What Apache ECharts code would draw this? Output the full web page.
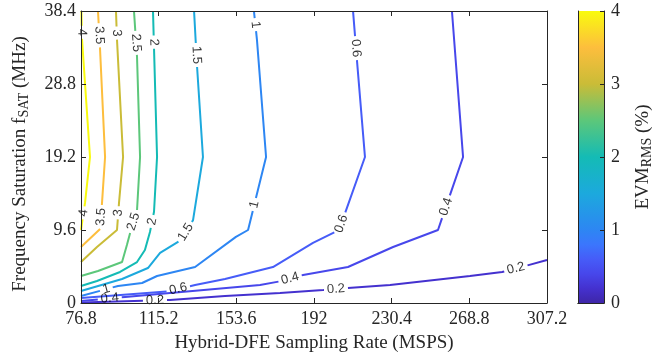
<!DOCTYPE html>
<html><head><meta charset="utf-8">
<script src="https://cdn.jsdelivr.net/npm/echarts@6/dist/echarts.min.js"></script>
<style>html,body{margin:0;padding:0;background:#fff}#c{width:656px;height:360px}</style>
</head><body><div id="c"></div><script>
// ---- data ----
const levels = [0.2, 0.4, 0.6, 1, 1.5, 2, 2.5, 3, 3.5, 4];
const xTicks = [76.8, 115.2, 153.6, 192, 230.4, 268.8, 307.2];
const yTicks = [0, 9.6, 19.2, 28.8, 38.4];
const cbTicks = [0, 1, 2, 3, 4];
const c02 = [[76.8,0.05],[120.8,0.39],[148,0.92],[175.2,1.32],[196.5,1.71],[208.8,1.97],[229.6,2.37],[269.1,3.55],[285,4.08],[298.3,5.0],[307.2,5.65]];
const c04 = [[260.2,38.4],[265.7,19.2],[253.3,9.6],[231.1,7.36],[208.8,4.73],[186.6,3.68],[173.7,2.76],[165.3,2.37],[98.6,0.79],[76.8,0.26]];
const c06 = [[211.3,38.4],[213.3,31.7],[217.2,19.2],[204.4,9.6],[191.5,7.9],[171.7,4.73],[148.0,3.16],[133.2,2.37],[118.3,1.45],[76.8,0.66]];
const c1  = [[162.3,38.4],[163.8,34.6],[168.3,19.2],[159.4,9.6],[153.4,8.7],[133.2,4.73],[114.4,3.55],[107,2.63],[95.1,2.24],[76.8,0.92]];
const c15 = [[132.7,38.4],[134.2,31.0],[137.1,19.2],[132.2,10.9],[126.2,8.28],[115.9,6.58],[109.9,4.6],[97.1,3.16],[76.8,1.58]];
const c2  = [[112.4,38.4],[112.9,33.5],[114.4,19.2],[112.9,12.0],[110.9,9.34],[108.4,6.97],[104.5,5.39],[96.1,4.08],[84.7,2.89],[76.8,2.24]];
const c25 = [[103.0,38.4],[104.5,32.35],[106.0,19.2],[104.5,12.2],[101.5,9.6],[99.5,7.63],[97.1,5.39],[85.2,4.21],[76.8,3.55]];
const c3  = [[94.1,38.4],[94.6,34.6],[97.6,19.2],[95.6,13.2],[94.6,9.6],[84.7,7.36],[76.8,5.39]];
const c35 = [[85.2,38.4],[86.2,33.5],[88.7,19.2],[87.2,13.2],[86.2,9.6],[76.8,7.36]];
const c4  = [[77.0,38.4],[77.3,34.6],[81.25,19.2],[78.8,13.2],[76.8,9.6]];
const contours = [c02, c04, c06, c1, c15, c2, c25, c3, c35, c4];
// contour label anchors: [level, x, y]
const labelSpots = [
  [1,89.7,1.45],[0.4,91.1,0.39],[0.2,113.4,0.13],[0.6,124.8,1.97],[0.4,180.1,3.29],
  [0.2,202.9,1.71],[0.2,291.9,4.47],[0.4,257.8,12.6],[0.6,207.3,10.26],[1,163.3,12.9],
  [1.5,129.2,9.2],[2,113.4,10.65],[2.5,103.5,10.65],[3,96.1,11.84],[3.5,87.2,11.3],[4,78.3,11.84],
  [4,77.3,35.6],[3.5,85.7,35.2],[3,94.6,35.5],[2.5,103.5,34.2],[2,112.4,34.3],[1.5,133.2,32.6],[1,162.8,36.6],[0.6,212.3,33.5]
];
// ---- parula colormap ----
const parulaStops = [
  [0,'#3e26a8'],[0.05,'#4431cf'],[0.1,'#4747eb'],[0.15,'#465cf8'],[0.2,'#3b76fd'],[0.25,'#2d86f3'],
  [0.375,'#1ca9dd'],[0.5,'#14bbb5'],[0.625,'#5cc77a'],[0.75,'#cabc37'],[0.875,'#fdbe3d'],[1,'#f9fb0e']
];
function hex2rgb(h){return [parseInt(h.substr(1,2),16),parseInt(h.substr(3,2),16),parseInt(h.substr(5,2),16)];}
function parula(t){
  t=Math.max(0,Math.min(1,t));
  for(let i=1;i<parulaStops.length;i++){
    if(t<=parulaStops[i][0]){
      const a=parulaStops[i-1],b=parulaStops[i];const f=(t-a[0])/(b[0]-a[0]);
      const ca=hex2rgb(a[1]),cb=hex2rgb(b[1]);
      return 'rgb('+ca.map((v,k)=>Math.round(v+(cb[k]-v)*f)).join(',')+')';
    }
  }
  return parulaStops[parulaStops.length-1][1];
}
const serif='"Liberation Serif","Times New Roman",serif';
const sans='"Liberation Sans",Arial,sans-serif';
const axisCol='#262626';
const chart=echarts.init(document.getElementById('c'));
function mkAxis(extra){
  return Object.assign({
    type:'value', z:10,
    axisLine:{show:true,onZero:false,lineStyle:{color:axisCol,width:1}},
    axisTick:{show:true,inside:true,length:5,lineStyle:{color:axisCol}},
    splitLine:{show:false},
    axisLabel:{show:false}
  },extra);
}
const xLab={show:true,color:'#262626',fontFamily:serif,fontSize:18,margin:7,formatter:v=>String(+v.toFixed(1))};
const yLab={show:true,color:'#262626',fontFamily:serif,fontSize:18,margin:5,formatter:v=>String(+v.toFixed(1))};
const richName={n:{fontFamily:serif,fontSize:19,color:'#262626',lineHeight:22},s:{fontFamily:serif,fontSize:14,color:'#262626',verticalAlign:'bottom',lineHeight:14}};
function baseOption(lineSeries,labelSeries){
  return {
    animation:false, backgroundColor:'#fff',
    grid:[{left:81,top:11,width:466,height:292},{left:578,top:11,width:26,height:292}],
    xAxis:[
      mkAxis({gridIndex:0,position:'bottom',min:xTicks[0],max:xTicks[xTicks.length-1],interval:38.4,axisLabel:xLab,
        name:'Hybrid-DFE Sampling Rate (MSPS)',nameLocation:'middle',nameGap:31,nameTextStyle:{fontFamily:serif,fontSize:19,color:'#262626'}}),
      mkAxis({gridIndex:0,position:'top',min:xTicks[0],max:xTicks[xTicks.length-1],interval:38.4}),
      {type:'category',gridIndex:1,data:['cb'],position:'bottom',z:10,axisLine:{show:true,lineStyle:{color:axisCol}},axisTick:{show:false},axisLabel:{show:false}},
      {type:'category',gridIndex:1,data:['cb'],position:'top',z:10,axisLine:{show:true,lineStyle:{color:axisCol}},axisTick:{show:false},axisLabel:{show:false}}
    ],
    yAxis:[
      mkAxis({gridIndex:0,position:'left',min:yTicks[0],max:yTicks[yTicks.length-1],interval:9.6,axisLabel:yLab,
        name:'{n|Frequency Saturation f}{s|SAT}{n| (MHz)}',nameLocation:'middle',nameRotate:90,nameGap:50,
        nameTextStyle:{rich:richName,padding:[0,14,0,0]}}),
      mkAxis({gridIndex:0,position:'right',min:yTicks[0],max:yTicks[yTicks.length-1],interval:9.6}),
      mkAxis({gridIndex:1,position:'left',min:cbTicks[0],max:cbTicks[cbTicks.length-1],interval:1,axisTick:{show:false}}),
      mkAxis({gridIndex:1,position:'right',min:cbTicks[0],max:cbTicks[cbTicks.length-1],interval:1,
        axisTick:{show:true,inside:true,length:4,lineStyle:{color:axisCol}},
        axisLabel:{show:true,color:'#262626',fontFamily:serif,fontSize:18,margin:7},
        name:'{n|EVM}{s|RMS}{n| (%)}',nameLocation:'middle',nameRotate:90,nameGap:28,
        nameTextStyle:{rich:richName}})
    ],
    series:[
      {type:'bar',xAxisIndex:2,yAxisIndex:2,data:[cbTicks[cbTicks.length-1]],barWidth:'100%',silent:true,
        itemStyle:{color:new echarts.graphic.LinearGradient(0,1,0,0,parulaStops.map(s=>({offset:s[0],color:s[1]})))}}
    ].concat(lineSeries).concat(labelSeries)
  };
}
function rawLines(){
  return levels.map((lv,i)=>({type:'line',xAxisIndex:0,yAxisIndex:0,data:contours[i],showSymbol:false,symbol:'none',
    lineStyle:{color:parula(lv/4),width:2},silent:true,z:3}));
}
chart.setOption(baseOption(rawLines(),[]));
// ---- break lines at labels, place rotated labels ----
const mctx=document.createElement('canvas').getContext('2d');
mctx.font='13px "Liberation Sans"';
const toPx=p=>chart.convertToPixel({xAxisIndex:0,yAxisIndex:0},p);
const fromPx=p=>chart.convertFromPixel({xAxisIndex:0,yAxisIndex:0},p);
const labelData=[];
const brokenSeries=levels.map((lv,i)=>{
  const pts=contours[i];const pix=pts.map(toPx);
  const cum=[0];for(let k=1;k<pix.length;k++)cum.push(cum[k-1]+Math.hypot(pix[k][0]-pix[k-1][0],pix[k][1]-pix[k-1][1]));
  const total=cum[cum.length-1];
  const gaps=[];
  labelSpots.filter(l=>l[0]===lv).forEach(l=>{
    const lp=toPx([l[1],l[2]]);let best=null;
    for(let k=0;k<pix.length-1;k++){
      const a=pix[k],b=pix[k+1];const dx=b[0]-a[0],dy=b[1]-a[1];const L2=dx*dx+dy*dy||1;
      let t=((lp[0]-a[0])*dx+(lp[1]-a[1])*dy)/L2;t=Math.max(0,Math.min(1,t));
      const q=[a[0]+t*dx,a[1]+t*dy];const d=Math.hypot(q[0]-lp[0],q[1]-lp[1]);
      if(!best||d<best.d)best={d,q,s:cum[k]+t*Math.sqrt(L2),dx,dy};
    }
    let ang=Math.atan2(-best.dy,best.dx)*180/Math.PI;
    if(ang>90)ang-=180;if(ang<=-90)ang+=180;
    const txt=String(lv);const w=mctx.measureText(txt).width+6;
    gaps.push([best.s-w/2,best.s+w/2]);
    labelData.push({value:fromPx(best.q),label:{formatter:txt,rotate:ang}});
  });
  gaps.sort((a,b)=>a[0]-b[0]);
  const vis=[];let cur=0;
  gaps.forEach(g=>{if(g[0]>cur)vis.push([cur,g[0]]);cur=Math.max(cur,g[1]);});
  if(cur<total)vis.push([cur,total]);
  const at=s=>{for(let k=0;k<pix.length-1;k++){if(s<=cum[k+1]||k===pix.length-2){const f=(s-cum[k])/((cum[k+1]-cum[k])||1);return [pix[k][0]+(pix[k+1][0]-pix[k][0])*f,pix[k][1]+(pix[k+1][1]-pix[k][1])*f];}}};
  const out=[];
  vis.forEach((v,j)=>{
    if(j>0)out.push(['-','-']);
    out.push(fromPx(at(v[0])));
    for(let k=0;k<pix.length;k++)if(cum[k]>v[0]&&cum[k]<v[1])out.push(pts[k]);
    out.push(fromPx(at(v[1])));
  });
  return {type:'line',xAxisIndex:0,yAxisIndex:0,data:out,showSymbol:false,symbol:'none',connectNulls:false,
    lineStyle:{color:parula(lv/4),width:2},silent:true,z:3};
});
const labelSeries={type:'scatter',xAxisIndex:0,yAxisIndex:0,data:labelData,symbolSize:1,itemStyle:{color:'rgba(0,0,0,0)'},
  label:{show:true,position:'inside',color:'#000',fontFamily:sans,fontSize:13},silent:true,z:4};
chart.setOption(baseOption(brokenSeries,[labelSeries]),true);
</script></body></html>
